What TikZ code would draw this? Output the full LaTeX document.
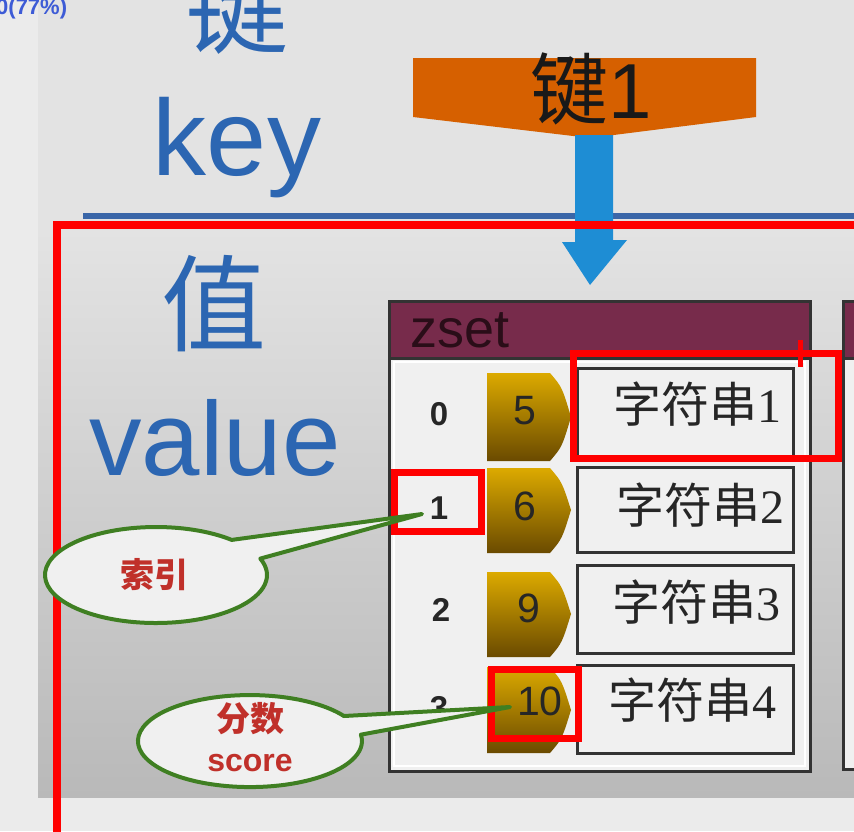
\documentclass[tikz,border=0pt]{standalone}
\usepackage{fontspec}
\setmainfont{Liberation Sans}
\newfontfamily\cjk{Noto Sans CJK SC}
\newfontfamily\serifnum{Liberation Serif}
\newcommand\myfs[1]{\fontsize{#1}{#1}\selectfont}
\definecolor{bgL}{HTML}{EBEBEB}
\definecolor{bgTop}{HTML}{E3E3E3}
\definecolor{bgBot}{HTML}{B9B9B9}
\definecolor{keyblue}{HTML}{2C66B2}
\definecolor{bannerorange}{HTML}{D66000}
\definecolor{arrowblue}{HTML}{1E8DD4}
\definecolor{lineblue}{HTML}{3A66A8}
\definecolor{zmaroon}{HTML}{772B4B}
\definecolor{zsettext}{HTML}{2A0D18}
\definecolor{cellbg}{HTML}{F0F0F0}
\definecolor{darkline}{HTML}{333333}
\definecolor{goldtop}{HTML}{DCAA00}
\definecolor{goldbot}{HTML}{6A4A00}
\definecolor{callgreen}{HTML}{3F7F22}
\definecolor{callred}{HTML}{C0302A}
\definecolor{pctblue}{HTML}{3D5BD6}
\tikzset{
  bigblue/.style={text=keyblue, inner sep=0pt},
  tablebox/.style={draw=darkline, line width=3pt},
  strbox/.style={draw=darkline, line width=3pt, fill=cellbg},
  strtext/.style={inner sep=0pt, text=black!85},
  idxtext/.style={inner sep=0pt, font=\bfseries\myfs{33}, text=black!85},
  goldnum/.style={inner sep=0pt, font=\myfs{41}, text=black!85},
  goldtab/.style={top color=goldtop, bottom color=goldbot},
  redbox/.style={draw=red, line width=7pt},
  callout/.style={draw=callgreen, line width=4pt, fill=cellbg, line join=round},
  calltext/.style={inner sep=0pt, text=callred, font=\bfseries\myfs{32}},
}
\newcommand\goldshape[3]{% top, bottom, center
  \path[goldtab] (487,#1) -- (550,#1) .. controls (562,#1+14) .. (571,#3)
    .. controls (562,#2-14) .. (550,#2) -- (487,#2) -- cycle;}
\begin{document}
\begin{tikzpicture}[x=1pt,y=-1pt]
\useasboundingbox (0,0) rectangle (854,831);
% backgrounds
\fill[bgL] (0,0) rectangle (854,831);
\fill[bgTop] (38,0) rectangle (854,230);
\shade[top color=bgTop, bottom color=bgBot] (38,230) rectangle (854,797);
% top-left label
\node[anchor=west, inner sep=0pt, text=pctblue, font=\bfseries\myfs{22}] (pct) at (-4,9) {0(77\%)};
% key / value labels
\node[bigblue, font=\cjk\myfs{105}] (jian) at (237,6) {键};
\node[bigblue, font=\myfs{108}] (key) at (237,148) {key};
\node[bigblue, font=\cjk\myfs{105}] (zhi) at (214,304) {值};
\node[bigblue, font=\myfs{105}, anchor=base] (value) at (215,475) {value};
% blue line
\draw[lineblue, line width=6pt] (83,216) -- (854,216);
% orange banner
\fill[bannerorange] (413,58) -- (756,58) -- (756,117) -- (590,138) -- (413,117) -- cycle;
\node[anchor=base, inner sep=0pt, font=\myfs{78}, text=black!90] (k1) at (591,118) {{\cjk 键}1};
% blue arrow
\fill[arrowblue] (575,135) -- (613,135) -- (613,240) -- (627,240) -- (590,285) -- (562,242) -- (575,242) -- cycle;
\coordinate (arrowtip) at (590,285);
% zset table
\filldraw[fill=zmaroon, tablebox] (389,301) rectangle (810,358);
\filldraw[fill=cellbg, tablebox] (389,358) rectangle (810,771);
\draw[white, line width=1.5pt] (394,362) rectangle (805,766);
\node[anchor=base west, inner sep=0pt, font=\myfs{54}, text=zsettext] (zset) at (410,347) {zset};
% partial second table
\filldraw[fill=zmaroon, tablebox] (843,301) rectangle (870,358);
\filldraw[fill=cellbg, tablebox] (843,358) rectangle (870,769);
% rows
\goldshape{373}{461}{417}
\goldshape{468}{553}{510}
\goldshape{572}{657}{614}
\goldshape{667}{753}{710}
\filldraw[strbox] (577,368) rectangle (793,459);
\filldraw[strbox] (577,467) rectangle (793,552);
\filldraw[strbox] (577,565) rectangle (793,653);
\filldraw[strbox] (577,665) rectangle (793,753);
\node[idxtext] (i0) at (439,414) {0};
\node[idxtext] (i1) at (439,508) {1};
\node[idxtext] (i2) at (441,610) {2};
\node[idxtext] (i3) at (439,708) {3};
\node[goldnum] (g0) at (525,411) {5};
\node[goldnum] (g1) at (525,506) {6};
\node[goldnum] (g2) at (529,608) {9};
\node[goldnum] (g3) at (540,701) {10};
\node[strtext, font=\myfs{48}] (s0) at (697,404) {{\cjk 字符串}{\serifnum 1}};
\node[strtext, font=\myfs{48}] (s1) at (700,505) {{\cjk 字符串}{\serifnum 2}};
\node[strtext, font=\myfs{48}] (s2) at (696,602) {{\cjk 字符串}{\serifnum 3}};
\node[strtext, font=\myfs{48}] (s3) at (692,700) {{\cjk 字符串}{\serifnum 4}};
% red frame
\draw[red, line width=8pt] (57,835) -- (57,225) -- (858,225);
% red highlight boxes
\draw[redbox] (573,353) rectangle (838,458);
\draw[red, line width=5pt] (800,340) -- (800,367);
\draw[redbox] (394,472) rectangle (481,531);
\draw[redbox] (491,669) rectangle (578,738);
% callouts
\coordinate (tipA) at (422,514);
\coordinate (tipB) at (510,707);
\filldraw[callout] (tipA) -- (231.7,539.9) arc[start angle=-47, end angle=-380, x radius=111, y radius=48] -- cycle;
\node[calltext, font=\cjk\bfseries\myfs{34}] (suoyin) at (154,575) {索引};
\filldraw[callout] (tipB) -- (343.9,716) arc[start angle=-33, end angle=-368, x radius=112, y radius=46] -- cycle;
\node[calltext, font=\cjk\bfseries\myfs{34}] (fenshu) at (250,719) {分数};
\node[calltext] (score) at (250,763) {score};
\end{tikzpicture}
\end{document}
